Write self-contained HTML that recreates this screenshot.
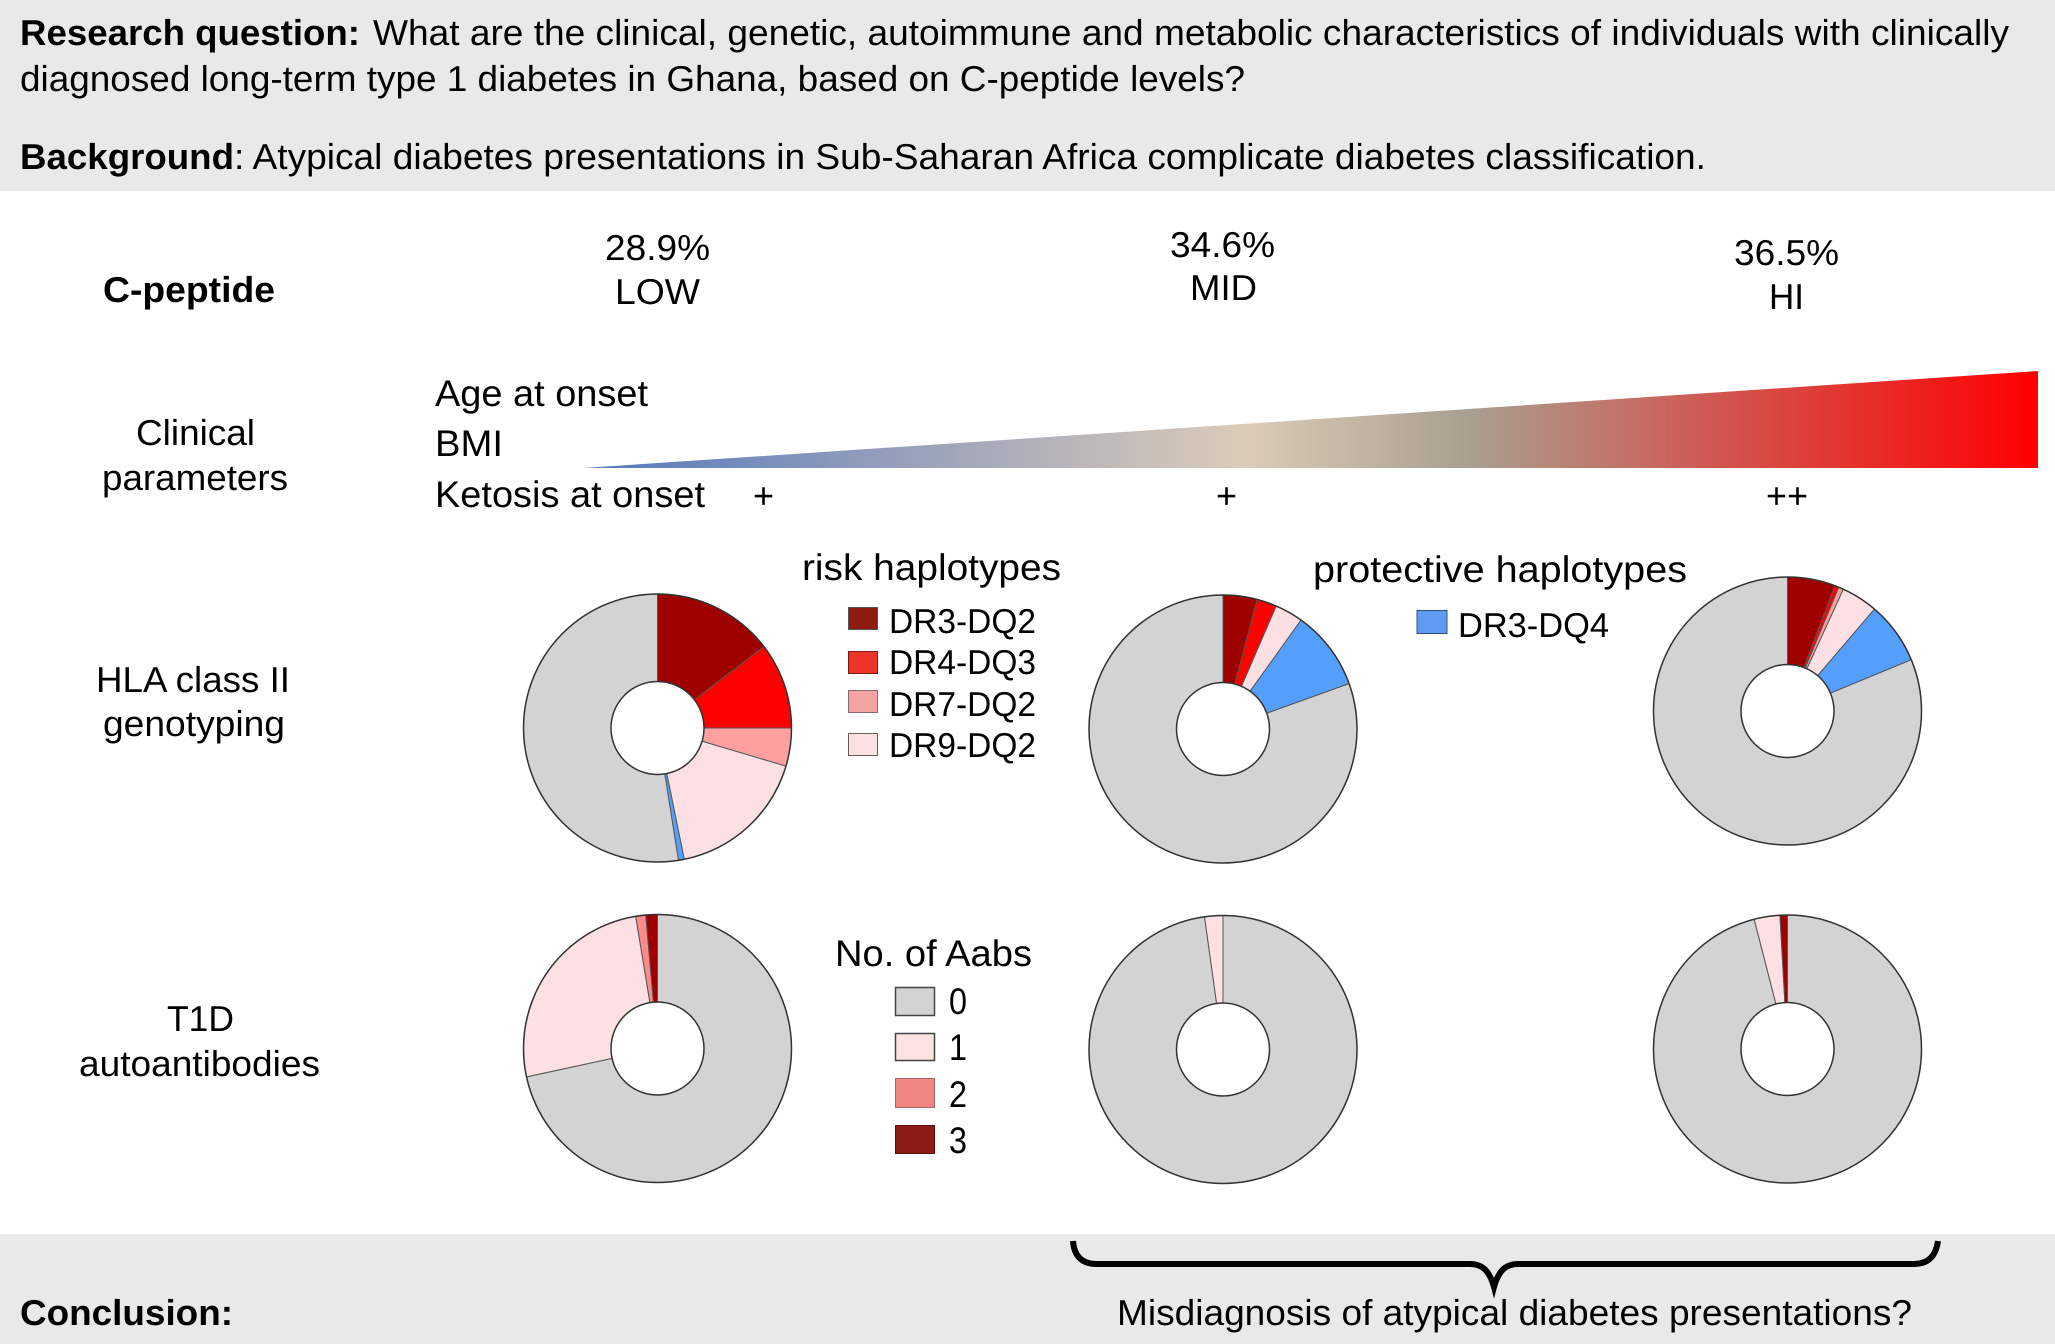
<!DOCTYPE html>
<html lang="en">
<head>
<meta charset="utf-8">
<title>Clinical, genetic and autoimmune characteristics by C-peptide level</title>
<style>
html,body{margin:0;padding:0;background:#fff;}
svg{display:block;}
text{font-family:"Liberation Sans",sans-serif;fill:#000;text-rendering:geometricPrecision;}
.a{font-size:36px;}
.b{font-size:36px;font-weight:bold;}
.c{font-size:37px;}
.d{font-size:34.5px;}
</style>
</head>
<body>
<svg id="figure" xmlns="http://www.w3.org/2000/svg" width="2055" height="1344" viewBox="0 0 2055 1344">
<defs>
<linearGradient id="wedgeGradient" gradientUnits="userSpaceOnUse" x1="583" y1="0" x2="2038" y2="0">
<stop offset="0" stop-color="#5578bd"/>
<stop offset="0.455" stop-color="#dccbb8"/>
<stop offset="0.61" stop-color="#a89f8f"/>
<stop offset="0.77" stop-color="#cf5a54"/>
<stop offset="1" stop-color="#ff0000"/>
</linearGradient>
</defs>

<rect x="0" y="0" width="2055" height="191" fill="#e9e9e9"/>
<rect x="0" y="1234" width="2055" height="110" fill="#e9e9e9"/>

<text class="b" x="20" y="45" textLength="340" lengthAdjust="spacingAndGlyphs">Research question:</text>
<text class="a" x="373" y="45" textLength="1636" lengthAdjust="spacingAndGlyphs">What are the clinical, genetic, autoimmune and metabolic characteristics of individuals with clinically</text>
<text class="a" x="20" y="91" textLength="1225" lengthAdjust="spacingAndGlyphs">diagnosed long-term type 1 diabetes in Ghana, based on C-peptide levels?</text>
<text class="b" x="20" y="169" textLength="214" lengthAdjust="spacingAndGlyphs">Background</text>
<text class="a" x="234" y="169" textLength="1472" lengthAdjust="spacingAndGlyphs">: Atypical diabetes presentations in Sub-Saharan Africa complicate diabetes classification.</text>

<text class="b" x="103" y="302" textLength="172" lengthAdjust="spacingAndGlyphs">C-peptide</text>
<text class="a" x="605" y="260" textLength="105" lengthAdjust="spacingAndGlyphs">28.9%</text>
<text class="a" x="615" y="304" textLength="85" lengthAdjust="spacingAndGlyphs">LOW</text>
<text class="a" x="1170" y="257" textLength="105" lengthAdjust="spacingAndGlyphs">34.6%</text>
<text class="a" x="1190" y="300" textLength="67" lengthAdjust="spacingAndGlyphs">MID</text>
<text class="a" x="1734" y="265" textLength="105" lengthAdjust="spacingAndGlyphs">36.5%</text>
<text class="a" x="1769" y="309" textLength="35" lengthAdjust="spacingAndGlyphs">HI</text>

<text class="a" x="136" y="445" textLength="119" lengthAdjust="spacingAndGlyphs">Clinical</text>
<text class="a" x="102" y="490" textLength="186" lengthAdjust="spacingAndGlyphs">parameters</text>
<text class="c" x="435" y="406" textLength="213" lengthAdjust="spacingAndGlyphs">Age at onset</text>
<text class="c" x="435" y="456" textLength="68" lengthAdjust="spacingAndGlyphs">BMI</text>
<text class="c" x="435" y="507" textLength="270" lengthAdjust="spacingAndGlyphs">Ketosis at onset</text>
<polygon points="583,468 2038,371 2038,468" fill="url(#wedgeGradient)"/>
<text class="a" x="753" y="508">+</text>
<text class="a" x="1216" y="508">+</text>
<text class="a" x="1766" y="508">++</text>

<text class="a" x="96" y="692" textLength="194" lengthAdjust="spacingAndGlyphs">HLA class II</text>
<text class="a" x="103" y="736" textLength="182" lengthAdjust="spacingAndGlyphs">genotyping</text>
<text class="a" x="167" y="1031" textLength="67" lengthAdjust="spacingAndGlyphs">T1D</text>
<text class="a" x="79" y="1076" textLength="241" lengthAdjust="spacingAndGlyphs">autoantibodies</text>

<g id="donuts"></g>

<g>
<text class="c" x="802" y="580" textLength="259" lengthAdjust="spacingAndGlyphs">risk haplotypes</text>
<rect x="848.5" y="607.5" width="29" height="22" fill="#8e1a12" stroke="#555" stroke-width="1"/>
<text class="d" x="889" y="633" textLength="147" lengthAdjust="spacingAndGlyphs">DR3-DQ2</text>
<rect x="848.5" y="651.5" width="29" height="22" fill="#ec3427" stroke="#7a1a14" stroke-width="1"/>
<text class="d" x="889" y="674" textLength="147" lengthAdjust="spacingAndGlyphs">DR4-DQ3</text>
<rect x="848.5" y="690.5" width="29" height="22" fill="#f4a3a3" stroke="#8a6a6a" stroke-width="1"/>
<text class="d" x="889" y="716" textLength="147" lengthAdjust="spacingAndGlyphs">DR7-DQ2</text>
<rect x="848.5" y="733.5" width="29" height="22" fill="#fce1e2" stroke="#6a5a5a" stroke-width="1"/>
<text class="d" x="889" y="757" textLength="147" lengthAdjust="spacingAndGlyphs">DR9-DQ2</text>
</g>

<g>
<text class="c" x="1313" y="582" textLength="374" lengthAdjust="spacingAndGlyphs">protective haplotypes</text>
<rect x="1417" y="610.5" width="30" height="23" fill="#5d9bf5" stroke="#2f4f7f" stroke-width="1"/>
<text class="d" x="1458" y="637" textLength="151" lengthAdjust="spacingAndGlyphs">DR3-DQ4</text>
</g>

<g>
<text class="c" x="835" y="966" textLength="197" lengthAdjust="spacingAndGlyphs">No. of Aabs</text>
<rect x="895.5" y="987.5" width="39" height="28" fill="#d3d3d3" stroke="#444" stroke-width="1.5"/>
<text class="c" x="949" y="1014" textLength="18" lengthAdjust="spacingAndGlyphs">0</text>
<rect x="895.5" y="1033.5" width="39" height="27" fill="#fce3e2" stroke="#444" stroke-width="1.5"/>
<text class="c" x="949" y="1060" textLength="18" lengthAdjust="spacingAndGlyphs">1</text>
<rect x="895.5" y="1078.5" width="39" height="29" fill="#f08583" stroke="#a66" stroke-width="1"/>
<text class="c" x="949" y="1107" textLength="18" lengthAdjust="spacingAndGlyphs">2</text>
<rect x="895.5" y="1125.5" width="39" height="28" fill="#8c1c13" stroke="#5a0a08" stroke-width="1"/>
<text class="c" x="949" y="1153" textLength="18" lengthAdjust="spacingAndGlyphs">3</text>
</g>

<text class="b" x="20" y="1325" textLength="213" lengthAdjust="spacingAndGlyphs">Conclusion:</text>
<path d="M1073,1241 C1074,1255 1081,1264 1096,1264 L1470,1264 C1483,1264 1490,1272 1494,1287 C1498,1272 1505,1264 1518,1264 L1914,1264 C1929,1264 1936,1255 1938,1241" fill="none" stroke="#000" stroke-width="6"/>
<text class="a" x="1117" y="1325" textLength="795" lengthAdjust="spacingAndGlyphs">Misdiagnosis of atypical diabetes presentations?</text>
</svg>

<script>
// HLA class II haplotype share (%), read clockwise from 12 o'clock
const hlaCategories = ['DR3-DQ2', 'DR4-DQ3', 'DR7-DQ2', 'DR9-DQ2', 'DR3-DQ4', 'Other'];
const hlaLow = [14.6, 10.4, 4.6, 17.2, 0.7, 52.5];
const hlaMid = [4.1, 2.4, 0, 3.4, 9.6, 80.5];
const hlaHi = [5.75, 0.5, 0.6, 4.4, 7.5, 81.25];

// Autoantibody count share (%), read clockwise from 12 o'clock
const aabCategories = ['0', '1', '2', '3'];
const aabLow = [71.6, 25.8, 1.2, 1.4];
const aabMid = [97.8, 2.2, 0, 0];
const aabHi = [96.0, 3.1, 0, 0.9];

const hlaColors = ['#9e0000', '#ff0000', '#ffa0a0', '#fde0e3', '#559ffc', '#d3d3d3'];
const aabColors = ['#d3d3d3', '#fde0e3', '#ff8a8a', '#9e0000'];

const SVG_NS = 'http://www.w3.org/2000/svg';
const donutLayer = document.getElementById('donuts');

function angleScale(share, total) {
  return (share / total) * 2 * Math.PI;
}

function polar(cx, cy, r, angle) {
  return [cx + r * Math.sin(angle), cy - r * Math.cos(angle)];
}

function drawDonut(name, values, categories, colors, cx, cy, outerR, innerR) {
  const total = values.reduce(function (sum, v) { return sum + v; }, 0);
  const group = document.createElementNS(SVG_NS, 'g');
  
  
  let start = 0;
  values.forEach(function (value, i) {
    if (value <= 0) { return; }
    const end = start + angleScale(value, total);
    const large = end - start > Math.PI ? 1 : 0;
    const p1 = polar(cx, cy, outerR, start);
    const p2 = polar(cx, cy, outerR, end);
    const p3 = polar(cx, cy, innerR, end);
    const p4 = polar(cx, cy, innerR, start);
    const slice = document.createElementNS(SVG_NS, 'path');
    slice.setAttribute('d',
      'M' + p1[0] + ',' + p1[1] +
      ' A' + outerR + ',' + outerR + ' 0 ' + large + ' 1 ' + p2[0] + ',' + p2[1] +
      ' L' + p3[0] + ',' + p3[1] +
      ' A' + innerR + ',' + innerR + ' 0 ' + large + ' 0 ' + p4[0] + ',' + p4[1] + ' Z');
    slice.setAttribute('fill', colors[i]);
    slice.setAttribute('stroke', '#555');
    slice.setAttribute('stroke-width', '1');
    
    
    group.appendChild(slice);
    start = end;
  });
  const outerRing = document.createElementNS(SVG_NS, 'circle');
  outerRing.setAttribute('cx', cx);
  outerRing.setAttribute('cy', cy);
  outerRing.setAttribute('r', outerR);
  outerRing.setAttribute('fill', 'none');
  outerRing.setAttribute('stroke', '#333');
  outerRing.setAttribute('stroke-width', '1.5');
  
  
  group.appendChild(outerRing);
  const hole = document.createElementNS(SVG_NS, 'circle');
  hole.setAttribute('cx', cx);
  hole.setAttribute('cy', cy);
  hole.setAttribute('r', innerR);
  hole.setAttribute('fill', '#fff');
  hole.setAttribute('stroke', '#333');
  hole.setAttribute('stroke-width', '1.5');
  
  
  group.appendChild(hole);
  donutLayer.appendChild(group);
}

drawDonut('hla-donut-low', hlaLow, hlaCategories, hlaColors, 657.5, 728, 134, 46.5);
drawDonut('hla-donut-mid', hlaMid, hlaCategories, hlaColors, 1223, 729, 134, 46.5);
drawDonut('hla-donut-hi', hlaHi, hlaCategories, hlaColors, 1787.5, 711, 134, 46.5);
drawDonut('aab-donut-low', aabLow, aabCategories, aabColors, 657.5, 1048.5, 134, 46.5);
drawDonut('aab-donut-mid', aabMid, aabCategories, aabColors, 1223, 1049.5, 134, 46.5);
drawDonut('aab-donut-hi', aabHi, aabCategories, aabColors, 1787.5, 1049, 134, 46.5);
</script>
</body>
</html>
